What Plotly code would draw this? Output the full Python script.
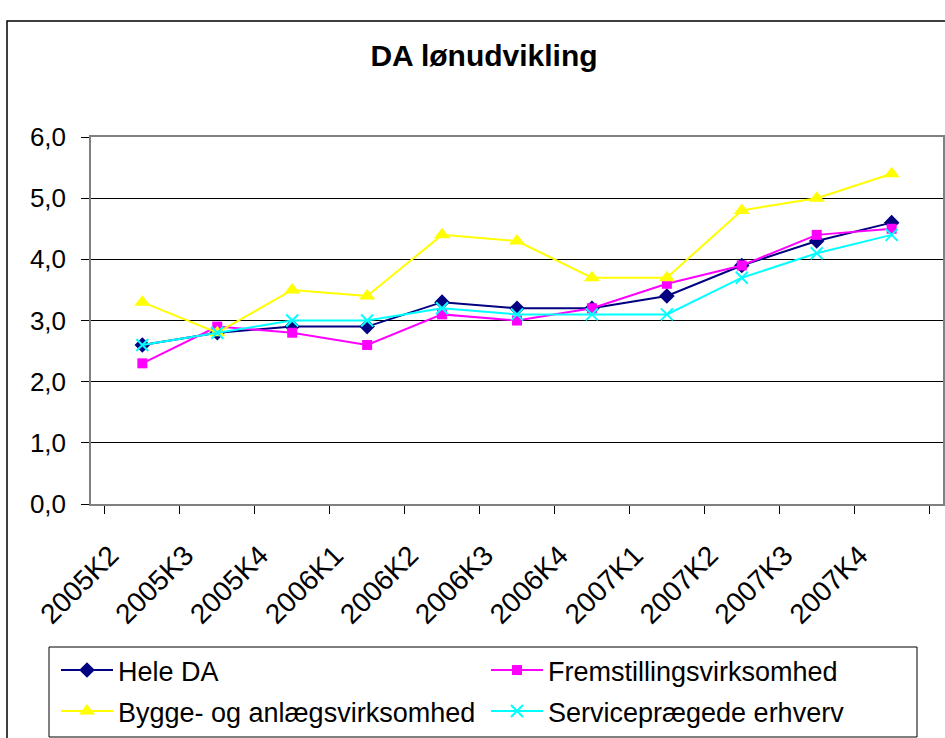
import plotly.graph_objects as go

categories = ["2005K2", "2005K3", "2005K4", "2006K1", "2006K2", "2006K3",
              "2006K4", "2007K1", "2007K2", "2007K3", "2007K4"]
hele_da = [2.6, 2.8, 2.9, 2.9, 3.3, 3.2, 3.2, 3.4, 3.9, 4.3, 4.6]
fremstilling = [2.3, 2.9, 2.8, 2.6, 3.1, 3.0, 3.2, 3.6, 3.9, 4.4, 4.5]
bygge = [3.3, 2.8, 3.5, 3.4, 4.4, 4.3, 3.7, 3.7, 4.8, 5.0, 5.4]
service = [2.6, 2.8, 3.0, 3.0, 3.2, 3.1, 3.1, 3.1, 3.7, 4.1, 4.4]
y_ticks = [0, 1, 2, 3, 4, 5, 6]
y_tick_labels = ["0,0", "1,0", "2,0", "3,0", "4,0", "5,0", "6,0"]

FONT = "Liberation Sans, Arial, sans-serif"
W, H = 945, 738
L, R, T, B = 91, 943, 137, 504
PW, PH = R - L, B - T


def px_x(x):
    return (x - L) / PW


def px_y(y):
    return (B - y) / PH


fig = go.Figure()
fig.add_trace(go.Scatter(x=categories, y=hele_da, name="Hele DA", mode="lines+markers",
                         legend="legend",
                         line=dict(color="#000080", width=2),
                         marker=dict(symbol="diamond", size=12, color="#000080")))
fig.add_trace(go.Scatter(x=categories, y=fremstilling, name="Fremstillingsvirksomhed", mode="lines+markers",
                         legend="legend",
                         line=dict(color="#FF00FF", width=2),
                         marker=dict(symbol="square", size=10, color="#FF00FF")))
fig.add_trace(go.Scatter(x=categories, y=bygge, name="Bygge- og anlægsvirksomhed", mode="lines+markers",
                         legend="legend2",
                         line=dict(color="#FFFF00", width=2),
                         marker=dict(symbol="triangle-up", size=14, color="#FFFF00")))
fig.add_trace(go.Scatter(x=categories, y=service, name="Serviceprægede erhverv", mode="lines+markers",
                         legend="legend2",
                         line=dict(color="#00FFFF", width=2),
                         marker=dict(symbol="x-thin", size=12, color="#00FFFF",
                                     line=dict(color="#00FFFF", width=2))))

legend_common = dict(orientation="h", xanchor="left", yanchor="top",
                     xref="paper", yref="paper",
                     entrywidth=363, entrywidthmode="pixels", itemwidth=52,
                     borderwidth=0, bgcolor="rgba(0,0,0,0)",
                     font=dict(size=27, family=FONT, color="black"),
                     traceorder="normal")

fig.update_layout(
    width=W, height=H,
    margin=dict(l=L, r=W - R, t=T, b=H - B, autoexpand=False),
    paper_bgcolor="white", plot_bgcolor="white",
    font=dict(family=FONT, color="black"),
    title=dict(text="<b>DA lønudvikling</b>", x=484 / W, xanchor="center",
               y=1 - 55 / H, yref="container", yanchor="middle",
               font=dict(size=30, family=FONT, color="black")),
    showlegend=True,
    hovermode=False,
    legend=dict(x=px_x(56), y=px_y(646), **legend_common),
    legend2=dict(x=px_x(56), y=px_y(687), **legend_common),
    shapes=[
        dict(type="rect", xref="paper", yref="paper",
             x0=px_x(7), x1=1.2, y0=-1.0, y1=px_y(21),
             line=dict(color="black", width=1.5), layer="below"),
        dict(type="rect", xref="paper", yref="paper",
             x0=px_x(49), x1=px_x(917), y0=px_y(737), y1=px_y(647),
             line=dict(color="black", width=1), layer="above"),
    ],
)
fig.update_xaxes(type="category", tickson="boundaries", ticks="outside", ticklen=8,
                 tickcolor="black", tickangle=-45, showgrid=False,
                 ticklabelstandoff=22, ticklabelshift=-32,
                 showline=True, linecolor="#808080", linewidth=1.5, mirror=True,
                 tickfont=dict(size=28, family=FONT, color="black"))
fig.update_yaxes(range=[0, 6], tickvals=y_ticks, ticktext=y_tick_labels,
                 ticks="outside", ticklen=8, tickcolor="black", ticklabelstandoff=10,
                 showgrid=True, gridcolor="black", gridwidth=1,
                 showline=True, linecolor="#808080", linewidth=1.5, mirror=True,
                 zeroline=False,
                 tickfont=dict(size=26, family=FONT, color="black"))

fig.write_html("out.html", config={"displayModeBar": False},
               post_script="document.body.style.margin='0';document.body.style.overflow='hidden';")
